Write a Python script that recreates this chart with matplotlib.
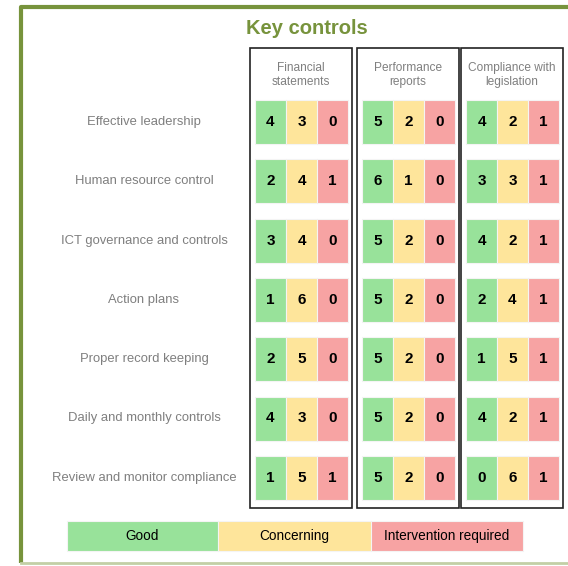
import matplotlib
matplotlib.use('Agg')
import matplotlib.pyplot as plt
from matplotlib.patches import Rectangle

# data
title = 'Key controls'
rows = ['Effective leadership', 'Human resource control', 'ICT governance and controls',
        'Action plans', 'Proper record keeping', 'Daily and monthly controls',
        'Review and monitor compliance']
groups = ['Financial\nstatements', 'Performance\nreports', 'Compliance with\nlegislation']
financial = [[4, 3, 0], [2, 4, 1], [3, 4, 0], [1, 6, 0], [2, 5, 0], [4, 3, 0], [1, 5, 1]]
performance = [[5, 2, 0], [6, 1, 0], [5, 2, 0], [5, 2, 0], [5, 2, 0], [5, 2, 0], [5, 2, 0]]
compliance = [[4, 2, 1], [3, 3, 1], [4, 2, 1], [2, 4, 1], [1, 5, 1], [4, 2, 1], [0, 6, 1]]
legend_labels = ['Good', 'Concerning', 'Intervention required']

colors = ['#98e29a', '#fee59b', '#f7a3a3']
narrow = ['Liberation Sans', 'DejaVu Sans']

fig = plt.figure(figsize=(5.68, 5.66), dpi=100)
ax = fig.add_axes([0, 0, 1, 1])
ax.set_xlim(0, 568)
ax.set_ylim(566, 0)
ax.axis('off')

# green frame
ax.plot([21, 21, 568], [563, 7, 7], color='#77933c', lw=3, solid_capstyle='butt')
ax.plot([21, 568], [563, 563], color='#c3cfa6', lw=2)

ax.text(307, 29, title, ha='center', va='center', fontsize=14.5, fontweight='bold',
        color='#77933c', family=narrow)

box_x = [250, 357, 461]
box_w = 102
cell_w = 31
cell_h = 44
row_y0 = 122
row_dy = 59.3

for gi, (name, vals) in enumerate(zip(groups, [financial, performance, compliance])):
    bx = box_x[gi]
    ax.add_patch(Rectangle((bx, 48), box_w, 460, fill=False, ec='#222222', lw=1.2))
    ax.text(bx + box_w / 2, 75, name, ha='center', va='center', fontsize=8.6,
            color='#7f7f7f', family=narrow, linespacing=1.3)
    for ri, triple in enumerate(vals):
        cy = row_y0 + ri * row_dy
        for ci, v in enumerate(triple):
            x0 = bx + 5 + ci * cell_w
            ax.add_patch(Rectangle((x0, cy - cell_h / 2), cell_w, cell_h,
                                   fc=colors[ci], ec='#f4f4f4', lw=0.8))
            ax.text(x0 + cell_w / 2, cy, str(v), ha='center', va='center',
                    fontsize=11, fontweight='bold', color='black', family=narrow)

for ri, r in enumerate(rows):
    ax.text(144, row_y0 + ri * row_dy, r, ha='center', va='center', fontsize=9.4,
            color='#7f7f7f', family=narrow)

# legend strip
leg_x = [67, 218, 371, 523]
for i, lab in enumerate(legend_labels):
    ax.add_patch(Rectangle((leg_x[i], 521), leg_x[i + 1] - leg_x[i], 30,
                           fc=colors[i], ec='#f4f4f4', lw=0.8))
    ax.text((leg_x[i] + leg_x[i + 1]) / 2, 536, lab, ha='center', va='center',
            fontsize=9.8, color='black', family=narrow)

fig.savefig('out.png', dpi=100)
